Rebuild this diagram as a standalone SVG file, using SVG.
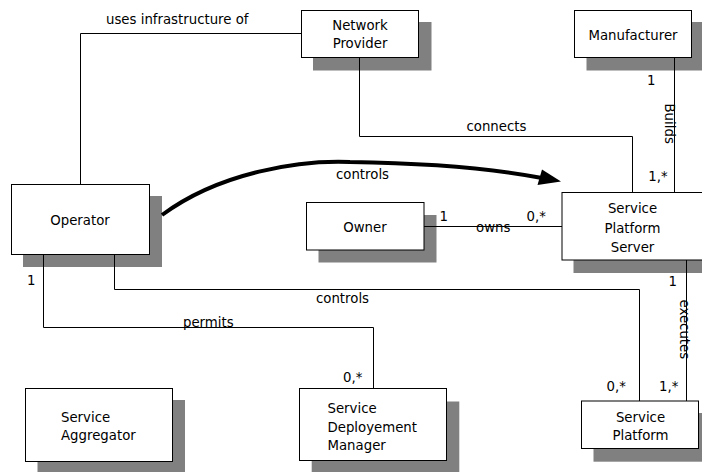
<svg xmlns="http://www.w3.org/2000/svg" width="702" height="472" viewBox="0 0 702 472">
<style>
.sh{fill:#808080}
.bx{fill:#fff;stroke:#000;stroke-width:1}
text{font-family:"DejaVu Sans","Liberation Sans",sans-serif;font-size:13.3px;fill:#000}
.c{text-anchor:middle}
.ln{fill:none;stroke:#000;stroke-width:1}
</style>
<rect width="702" height="472" fill="#fff"/>
<g id="network-provider">
<rect class="sh" x="313" y="22" width="118.5" height="48.5"/>
<rect class="bx" x="301.5" y="10.5" width="117" height="47"/>
<text class="c" x="360" y="30">Network</text>
<text class="c" x="360" y="48">Provider</text>
</g>
<g id="manufacturer">
<rect class="sh" x="586.5" y="22" width="120" height="48.5"/>
<rect class="bx" x="574.5" y="10.5" width="117" height="47"/>
<text class="c" x="633" y="40">Manufacturer</text>
</g>
<g id="operator">
<rect class="sh" x="23" y="196" width="139" height="71"/>
<rect class="bx" x="11.5" y="184.5" width="138" height="70"/>
<text class="c" x="80" y="225">Operator</text>
</g>
<g id="owner">
<rect class="sh" x="318.5" y="215" width="118" height="47.5"/>
<rect class="bx" x="306.5" y="202.5" width="117.5" height="47.5"/>
<text class="c" x="365" y="232">Owner</text>
</g>
<g id="service-platform-server">
<rect class="sh" x="573.5" y="205" width="140" height="68"/>
<rect class="bx" x="562" y="192.5" width="142" height="67.5"/>
<text class="c" x="632.5" y="213.3">Service</text>
<text class="c" x="632.5" y="232.5">Platform</text>
<text class="c" x="632.5" y="251.5">Server</text>
</g>
<g id="service-platform">
<rect class="sh" x="593.5" y="413" width="120" height="48.7"/>
<rect class="bx" x="581.5" y="401" width="117" height="47.5"/>
<text class="c" x="640.5" y="421.7">Service</text>
<text class="c" x="640.5" y="440">Platform</text>
</g>
<g id="service-aggregator">
<rect class="sh" x="37.5" y="400" width="147.5" height="72"/>
<rect class="bx" x="25.5" y="388.5" width="147" height="73"/>
<text x="61" y="421.5">Service</text>
<text x="61" y="440">Aggregator</text>
</g>
<g id="service-deployement-manager">
<rect class="sh" x="311.7" y="401.5" width="147.6" height="71"/>
<rect class="bx" x="299.5" y="388.5" width="147" height="72"/>
<text x="327.5" y="413.3">Service</text>
<text x="327.5" y="431.7">Deployement</text>
<text x="327.5" y="450">Manager</text>
</g>
<g id="connectors">
<polyline class="ln" points="301.5,33.5 80.5,33.5 80.5,184.5"/>
<polyline class="ln" points="359.5,57.5 359.5,136.5 632.5,136.5 632.5,192.5"/>
<polyline class="ln" points="674.5,57.5 674.5,192.5"/>
<polyline class="ln" points="424,226.5 562,226.5"/>
<polyline class="ln" points="686.5,260 686.5,401"/>
<polyline class="ln" points="43.5,254.5 43.5,327.5 373.5,327.5 373.5,388.5"/>
<polyline class="ln" points="114.5,254.5 114.5,289.5 639.5,289.5 639.5,401"/>
<path d="M162,215 C220,172 300,160 350,162 C420,163 490,168 542,178" fill="none" stroke="#000" stroke-width="4"/>
<polygon points="561,181.5 542,169.5 537.5,185" fill="#000"/>
<text x="106" y="24">uses infrastructure of</text>
<text x="466.5" y="131">connects</text>
<text x="336" y="179.3">controls</text>
<text x="647" y="85">1</text>
<text x="648.3" y="180.5">1,*</text>
<text transform="translate(665,103.5) rotate(90)">Builds</text>
<text x="439.5" y="221">1</text>
<text x="526.5" y="221">0,*</text>
<text x="476" y="232">owns</text>
<text x="27" y="285">1</text>
<text x="316" y="303">controls</text>
<text x="183" y="326.5">permits</text>
<text x="343" y="382">0,*</text>
<text x="668.5" y="286">1</text>
<text transform="translate(679.5,299.5) rotate(90)">executes</text>
<text x="606.5" y="391">0,*</text>
<text x="659" y="391">1,*</text>
</g>
</svg>
